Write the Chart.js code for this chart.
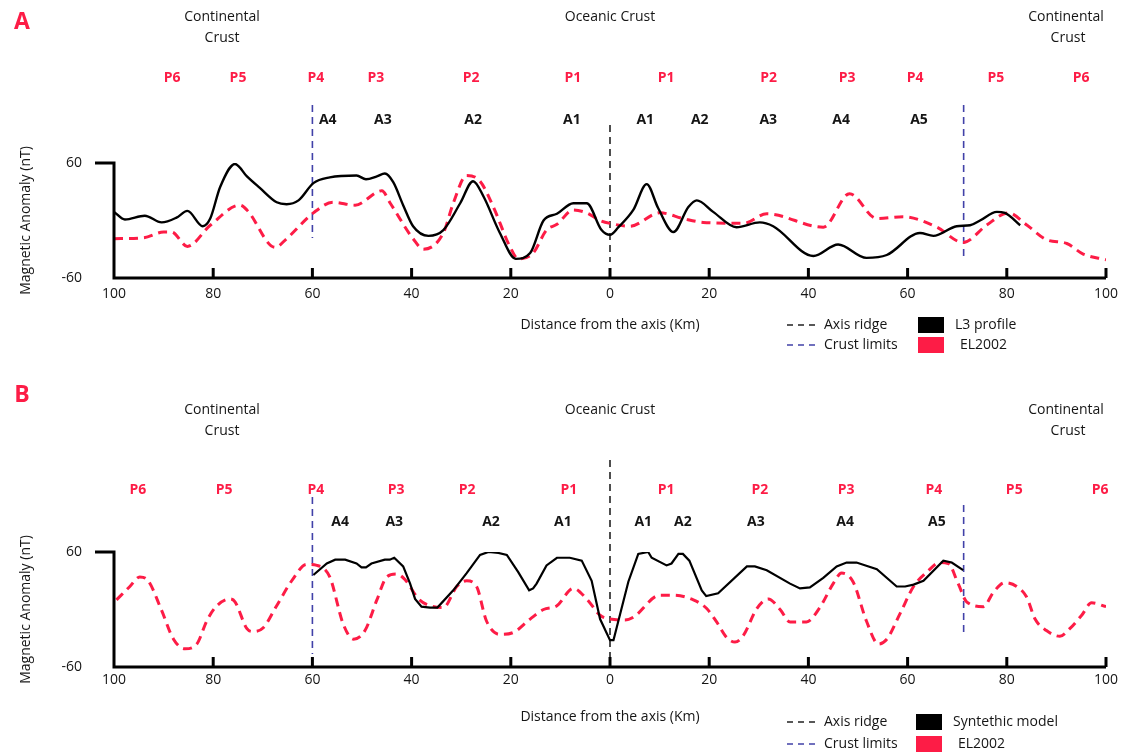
<!DOCTYPE html>
<html>
<head>
<meta charset="utf-8">
<script src="https://cdn.jsdelivr.net/npm/chart.js@4.4.1/dist/chart.umd.min.js"></script>
<style>
  body { margin: 0; background: #fff; }
  #wrap { position: relative; width: 1126px; height: 753px; }
  #chartA { position: absolute; left: 0; top: 0; }
  #chartB { position: absolute; left: 0; top: 376px; }
</style>
</head>
<body>
<div id="wrap">
  <canvas id="chartA" width="1126" height="376"></canvas>
  <canvas id="chartB" width="1126" height="377"></canvas>
</div>
<script>
// --- panel A: L3 profile vs EL2002 (km from axis, nT)
const l3Km = [-100, -97.8, -93.8, -90.4, -87.4, -85.2, -82.1, -80.6, -78.6, -75.6, -73.2, -70.6, -67.2, -65.2, -62.8, -59.8, -56.5, -51.1, -49.2, -47, -45.4, -43.7, -41.7, -39.7, -36.6, -33.6, -30.2, -27.6, -25.5, -22.2, -19, -16.1, -13.4, -10.7, -7.4, -4.7, -1.7, 0, 1.7, 4.7, 7.4, 9.7, 12.8, 15.8, 17.5, 20.8, 25.5, 30.2, 32.9, 41, 46, 51.7, 55.8, 62.5, 65.2, 69.9, 72.6, 74.6, 78, 79.6, 82.7];
const l3Nt = [9, 1, 5, -2, 3, 10, -6, 2, 35, 59, 46, 34, 19, 17, 21, 39, 45, 47, 43, 46, 49, 40, 16, -6, -16, -10, 18, 41, 25, -13, -40, -34, 0, 7, 18, 18, -10, -15, -7, 11, 38, 13, -12, 14, 21, 9, -7, -2, -6, -37, -25, -39, -36, -13, -16, -6, -5, 0, 9, 8, -5];

const elAKm = [-100, -94, -90, -88.4, -85.2, -80.6, -74.6, -73.2, -67.5, -65.2, -59.8, -55.8, -51.4, -46, -44.3, -39.7, -37.6, -33.6, -31.6, -28.9, -26.2, -23.5, -20.2, -18.5, -15.5, -12.8, -10.7, -7.4, -4.7, -2, 0, 4, 10.1, 14.8, 18.8, 26.9, 31.6, 43, 48.3, 53.8, 59.1, 65.9, 71.2, 75.9, 80.3, 84.1, 88, 92.1, 95.4, 100];
const elANt = [-19, -18, -12, -12, -27, -5, 16, 11, -28, -19, 8, 19, 16, 31, 18, -19, -30, -13, 18, 47, 41, 14, -27, -40, -34, -10, -4, 11, 8, 0, -3, -6, 8, 2, -2, -3, 7, -7, 28, 2, 4, -7, -23, -5, 8, -5, -20, -24, -35, -41];

// --- panel B: synthetic model vs EL2002
const synKm = [-59.8, -57.1, -55.4, -53.4, -51.1, -50.1, -49.2, -48.1, -45.4, -44.4, -43.5, -41.7, -40.3, -39.3, -38, -36.3, -34.8, -31.6, -28.9, -26.2, -24.5, -22.5, -20.8, -18.5, -16.3, -15.5, -14.8, -12.8, -10.7, -8.1, -5.7, -3.7, -2, 0, 0.7, 3.7, 5.7, 7.7, 8.4, 11.4, 12.4, 13.8, 14.7, 16, 18.5, 19.4, 21.8, 27.6, 29.2, 31.6, 36.3, 38.3, 40.3, 43, 45.7, 47.7, 49.7, 53.8, 57.8, 59.5, 61.2, 63.2, 67.2, 68.9, 71.2];
const synNt = [36, 48, 52, 52, 48, 44, 44, 48, 52, 52, 54, 45, 27, 11, 3, 2, 2, 20, 38, 57, 60, 59, 57, 39, 20, 22, 27, 46, 54, 54, 51, 30, -10, -32, -32, 29, 58, 60, 54, 46, 48, 58, 58, 51, 20, 14, 17, 45, 45, 41, 27, 22, 23, 33, 45, 49, 49, 42, 24, 24, 26, 30, 51, 49, 41];

const elBKm = [-99.5, -96.8, -94.8, -93.1, -90.4, -88, -85.7, -83.3, -81.3, -79.6, -76.6, -75.6, -73.2, -71.9, -69.9, -67.2, -63.9, -61.2, -59.1, -56.5, -53.8, -51.7, -49.4, -47, -45, -43, -41.3, -38.6, -36.3, -33.6, -30.9, -28.9, -26.9, -24.9, -22.2, -19.5, -16.1, -13.4, -10.7, -7.4, -4.7, -2, 0, 3, 4.7, 10.1, 12.8, 16.8, 19.5, 21.5, 23.5, 25.2, 26.9, 29.6, 31.9, 34.3, 36.3, 39.6, 42.3, 45, 46.7, 49, 51.7, 54.1, 55.8, 58.5, 61.2, 63.9, 66.5, 68.2, 70.2, 71.9, 75.3, 77.3, 79.6, 82, 84, 85.7, 88, 90.7, 92.7, 95.1, 97.1, 100];
const elBNt = [10, 24, 34, 30, -1, -31, -41, -36, -12, 2, 11, 8, -20, -23, -19, 4, 32, 47, 46, 34, -15, -31, -22, 10, 34, 37, 31, 11, 4, 2, 24, 30, 24, -12, -26, -24, -10, 0, 4, 22, 11, -6, -10, -11, -8, 15, 15, 10, 1, -13, -29, -34, -27, 1, 11, 0, -13, -13, 2, 27, 38, 29, -12, -36, -31, -4, 24, 39, 49, 48, 27, 8, 3, 18, 28, 24, 13, -10, -22, -28, -20, -6, 7, 3];

// anomaly labels (km positions)
const peakNamesA = ['P6', 'P5', 'P4', 'P3', 'P2', 'P1', 'P1', 'P2', 'P3', 'P4', 'P5', 'P6'];
const peakKmA = [-88.3, -75, -59.3, -47.2, -28, -7.5, 11.3, 32, 47.8, 61.5, 77.8, 95];
const chronNamesA = ['A4', 'A3', 'A2', 'A1', 'A1', 'A2', 'A3', 'A4', 'A5'];
const chronKmA = [-56.9, -45.8, -27.6, -7.7, 7.1, 18.1, 31.9, 46.6, 62.3];

const peakNamesB = ['P6', 'P5', 'P4', 'P3', 'P2', 'P1', 'P1', 'P2', 'P3', 'P4', 'P5', 'P6'];
const peakKmB = [-95.2, -77.8, -59.3, -43.1, -28.8, -8.3, 11.3, 30.2, 47.6, 65.3, 81.5, 98.8];
const chronNamesB = ['A4', 'A3', 'A2', 'A1', 'A1', 'A2', 'A3', 'A4', 'A5'];
const chronKmB = [-54.4, -43.5, -24, -9.5, 6.7, 14.7, 29.4, 47.4, 65.9];

const yTicks = [-60, 60];
const ridgeKm = 0;
const crustLimitsKm = [-60, 71.3];

const FONT = '"Open Sans", "Noto Sans", sans-serif';
const RED = '#fd1c46';
const BLUE = '#4141a8';
const INK = '#151515';

function pts(xs, ys) {
  return xs.map((x, i) => ({ x: x, y: ys[i] }));
}

function text(ctx, s, x, y, font, color, align) {
  ctx.font = font;
  ctx.fillStyle = color;
  ctx.textAlign = align || 'center';
  ctx.textBaseline = 'middle';
  ctx.fillText(s, x, y);
}

function vdash(ctx, x, y0, y1, color) {
  ctx.save();
  ctx.strokeStyle = color;
  ctx.lineWidth = 1.6;
  ctx.setLineDash([7, 5]);
  ctx.beginPath();
  ctx.moveTo(x, y0);
  ctx.lineTo(x, y1);
  ctx.stroke();
  ctx.restore();
}

function decor(cfg) {
  return {
    id: 'decor',
    beforeDatasetsDraw(chart) {
      const ctx = chart.ctx;
      const xs = chart.scales.x;
      vdash(ctx, xs.getPixelForValue(ridgeKm), cfg.ridgeY[0], cfg.ridgeY[1], '#222');
      crustLimitsKm.forEach((km, i) => {
        vdash(ctx, xs.getPixelForValue(km), cfg.limitY[i][0], cfg.limitY[i][1], BLUE);
      });
    },
    afterDraw(chart) {
      const ctx = chart.ctx;
      const a = chart.chartArea;
      const xs = chart.scales.x;
      ctx.save();
      // axes
      ctx.strokeStyle = '#000';
      ctx.lineWidth = 3;
      ctx.setLineDash([]);
      ctx.beginPath();
      ctx.moveTo(95, a.top);
      ctx.lineTo(a.left, a.top);
      ctx.lineTo(a.left, a.bottom);
      ctx.lineTo(a.right, a.bottom);
      ctx.stroke();
      for (let v = -80; v <= 100; v += 20) {
        const px = xs.getPixelForValue(v);
        ctx.beginPath();
        ctx.moveTo(px, a.bottom);
        ctx.lineTo(px, a.bottom - 10);
        ctx.stroke();
      }

      // headings
      text(ctx, cfg.letter, 22, cfg.letterY, 'bold 23px ' + FONT, RED);
      const reg = '14px ' + FONT;
      text(ctx, 'Continental', 222, cfg.headY, reg, INK);
      text(ctx, 'Crust', 222, cfg.headY + 21, reg, INK);
      text(ctx, 'Oceanic Crust', 610, cfg.headY, reg, INK);
      text(ctx, 'Continental', 1066, cfg.headY, reg, INK);
      text(ctx, 'Crust', 1068, cfg.headY + 21, reg, INK);

      const bold = 'bold 14px ' + FONT;
      cfg.peakNames.forEach((n, i) => text(ctx, n, xs.getPixelForValue(cfg.peakKm[i]), cfg.peakY, bold, RED));
      cfg.chronNames.forEach((n, i) => text(ctx, n, xs.getPixelForValue(cfg.chronKm[i]), cfg.chronY, bold, INK));

      // legend
      const L = cfg.legend;
      ctx.lineWidth = 1.5;
      ctx.setLineDash([6, 5]);
      ctx.strokeStyle = '#222';
      ctx.beginPath(); ctx.moveTo(L.x, L.y1); ctx.lineTo(L.x + 32, L.y1); ctx.stroke();
      ctx.strokeStyle = BLUE;
      ctx.beginPath(); ctx.moveTo(L.x, L.y2); ctx.lineTo(L.x + 32, L.y2); ctx.stroke();
      ctx.setLineDash([]);
      text(ctx, 'Axis ridge', L.x + 37, L.y1, reg, INK, 'left');
      text(ctx, 'Crust limits', L.x + 37, L.y2, reg, INK, 'left');
      ctx.fillStyle = '#000';
      ctx.fillRect(L.bx, L.y1 - 8, 26, 16);
      ctx.fillStyle = RED;
      ctx.fillRect(L.bx, L.y2 - 8, 26, 16);
      text(ctx, cfg.seriesName, L.bx + 37, L.y1, reg, INK, 'left');
      text(ctx, 'EL2002', L.bx + 42, L.y2, reg, INK, 'left');
      ctx.restore();
    }
  };
}

function makeChart(id, datasets, cfg) {
  return new Chart(document.getElementById(id), {
    type: 'line',
    data: { datasets: datasets },
    options: {
      responsive: false,
      animation: false,
      parsing: false,
      layout: { padding: { left: 12, right: 20, top: cfg.padTop, bottom: 0 } },
      plugins: { legend: { display: false }, tooltip: { enabled: false } },
      elements: { point: { radius: 0 } },
      scales: {
        x: {
          type: 'linear', min: -100, max: 100,
          grid: { display: false, drawTicks: false },
          border: { display: false },
          ticks: {
            stepSize: 20, padding: cfg.xTickPad, color: INK, maxRotation: 0, autoSkip: false,
            font: { family: FONT, size: 14 },
            callback: v => Math.abs(v)
          },
          title: {
            display: true, text: 'Distance from the axis (Km)', color: INK,
            font: { family: FONT, size: 14 }, padding: { top: 4, bottom: cfg.xTitlePad }
          },
          afterFit: s => { s.height = cfg.xHeight; }
        },
        y: {
          min: -60, max: 60,
          grid: { display: false, drawTicks: false },
          border: { display: false },
          ticks: { padding: 32, color: INK, font: { family: FONT, size: 14 } },
          afterBuildTicks: s => { s.ticks = yTicks.map(v => ({ value: v })); },
          title: {
            display: true, text: 'Magnetic Anomaly (nT)', color: INK,
            font: { family: FONT, size: 14 }, padding: { top: 6, bottom: 4 }
          },
          afterFit: s => { s.width = 102; }
        }
      }
    },
    plugins: [decor(cfg)]
  });
}

makeChart('chartA', [
  { label: 'L3 profile', data: pts(l3Km, l3Nt), borderColor: '#000', borderWidth: 2.4,
    cubicInterpolationMode: 'monotone', order: 0 },
  { label: 'EL2002', data: pts(elAKm, elANt), borderColor: RED, borderWidth: 3,
    borderDash: [9, 6], cubicInterpolationMode: 'monotone', order: 1 }
], {
  padTop: 163, xHeight: 98, xTickPad: 8, xTitlePad: 43,
  letter: 'A', letterY: 22, headY: 17, peakY: 78, chronY: 120,
  peakNames: peakNamesA, peakKm: peakKmA, chronNames: chronNamesA, chronKm: chronKmA,
  ridgeY: [125, 262], limitY: [[105, 238], [105, 260]],
  seriesName: 'L3 profile',
  legend: { x: 787, y1: 325, y2: 345, bx: 918 }
});

makeChart('chartB', [
  { label: 'Syntethic model', data: pts(synKm, synNt), borderColor: '#000', borderWidth: 2.2,
    tension: 0, order: 0 },
  { label: 'EL2002', data: pts(elBKm, elBNt), borderColor: RED, borderWidth: 3,
    borderDash: [9, 6], cubicInterpolationMode: 'monotone', order: 1 }
], {
  padTop: 176, xHeight: 86, xTickPad: 5, xTitlePad: 28,
  letter: 'B', letterY: 19, headY: 34, peakY: 114, chronY: 146,
  peakNames: peakNamesB, peakKm: peakKmB, chronNames: chronNamesB, chronKm: chronKmB,
  ridgeY: [84, 292], limitY: [[121, 278], [129, 259]],
  seriesName: 'Syntethic model',
  legend: { x: 787, y1: 346, y2: 368, bx: 916 }
});
</script>
</body>
</html>
